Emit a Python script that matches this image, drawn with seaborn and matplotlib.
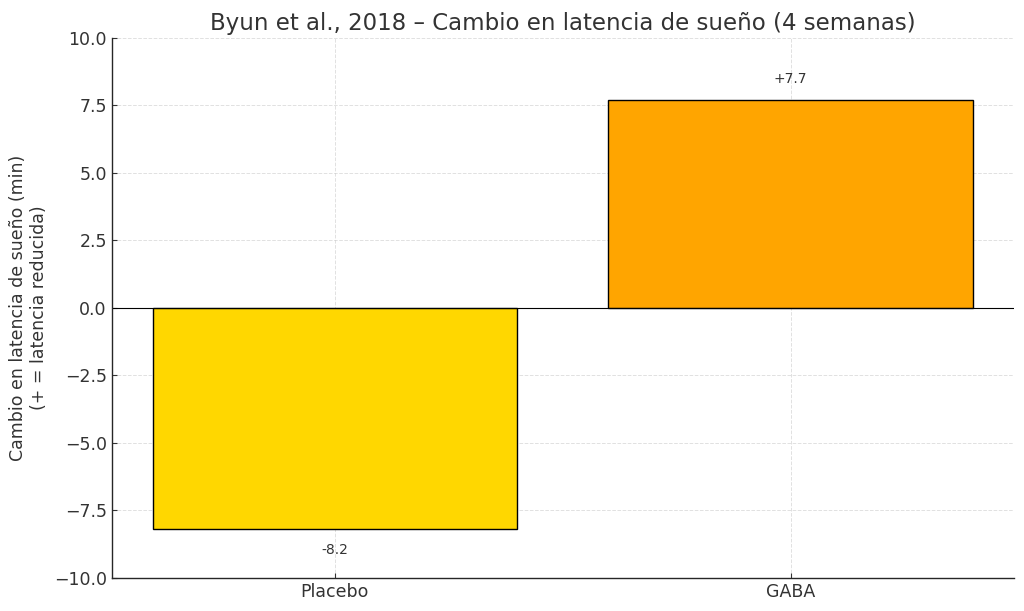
import matplotlib
matplotlib.use("Agg")
import matplotlib.pyplot as plt
import seaborn as sns
import pandas as pd

# datos
grupos = ["Placebo", "GABA"]
cambio = [-8.2, 7.7]
etiquetas = ["-8.2", "+7.7"]
colores = ["#FFD700", "#FFA500"]

sns.set_style("ticks")
plt.rcParams['font.family'] = ['DejaVu Sans']
plt.rcParams['text.color'] = '#333333'
plt.rcParams['axes.labelcolor'] = '#333333'
plt.rcParams['xtick.color'] = '#333333'
plt.rcParams['ytick.color'] = '#333333'

df = pd.DataFrame({"grupo": grupos, "cambio": cambio})

fig, ax = plt.subplots(figsize=(10.24, 6.11), dpi=100)
sns.barplot(data=df, x="grupo", y="cambio", hue="grupo", palette=colores,
            edgecolor="black", linewidth=1, saturation=1, legend=False, ax=ax)

ax.axhline(0, color="black", linewidth=0.8)
ax.set_ylim(-10, 10)
ax.set_xlim(-0.49, 1.49)
ax.grid(True, linestyle="--", color="#cccccc", alpha=0.6, linewidth=0.7)
ax.set_axisbelow(True)
sns.despine(ax=ax)
for s in ("left", "bottom"):
    ax.spines[s].set_linewidth(1.0)
ax.tick_params(direction="in", labelsize=12.5)

for i, (v, t) in enumerate(zip(cambio, etiquetas)):
    off = 0.5 if v > 0 else -0.5
    ax.text(i, v + off, t, ha="center", va="bottom" if v > 0 else "top", fontsize=10)

ax.set_title("Byun et al., 2018 – Cambio en latencia de sueño (4 semanas)", fontsize=16.5)
ax.set_xlabel("")
ax.set_ylabel("Cambio en latencia de sueño (min)\n(+ = latencia reducida)", fontsize=12.5)

plt.subplots_adjust(left=0.109, right=0.99, top=0.938, bottom=0.054)
fig.savefig("out.png", dpi=100)
